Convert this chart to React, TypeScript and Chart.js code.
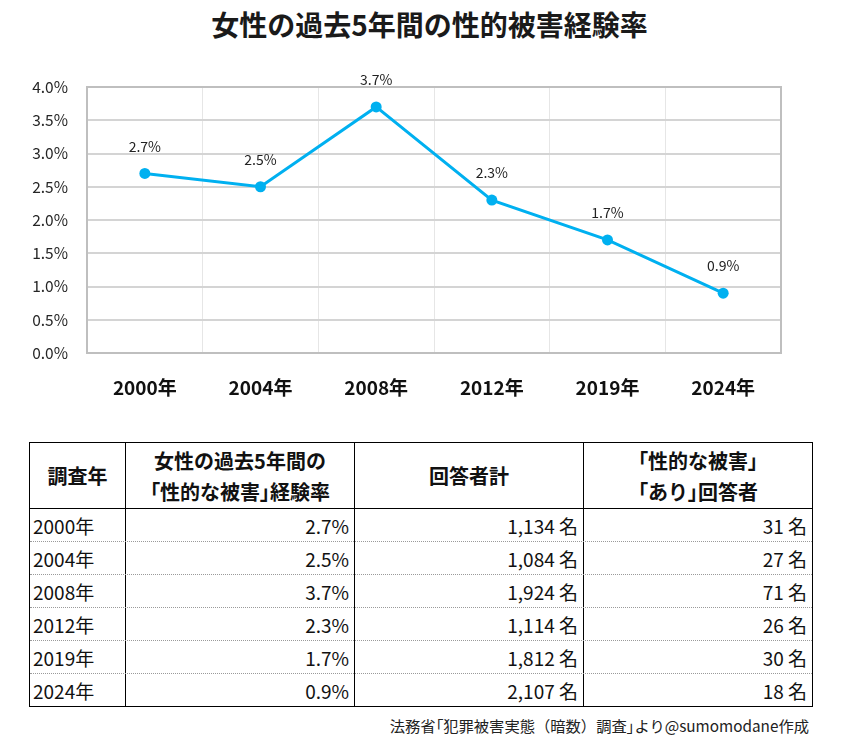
import React, { useEffect, useRef } from "react";
import { Chart, registerables } from "chart.js";

Chart.register(...registerables);

const FONT = "'Noto Sans CJK JP', 'Noto Sans', sans-serif";

const chartTitle = "女性の過去5年間の性的被害経験率";
const years = ["2000年", "2004年", "2008年", "2012年", "2019年", "2024年"];
const rates = [2.7, 2.5, 3.7, 2.3, 1.7, 0.9];
const totals = ["1,134", "1,084", "1,924", "1,114", "1,812", "2,107"];
const victims = ["31", "27", "71", "26", "30", "18"];
const headerCol1 = ["調査年"];
const headerCol2 = ["女性の過去5年間の", "「性的な被害」経験率"];
const headerCol3 = ["回答者計"];
const headerCol4 = ["「性的な被害」", "「あり」回答者"];
const sourceNote = "法務省「犯罪被害実態（暗数）調査」より@sumomodane作成";

// render text with 「 」 narrowed (proportional alternates)
function Txt({ s }: { s: string }) {
  const parts = s.split(/([「」])/);
  return (
    <>
      {parts.map((p, i) =>
        p === "「" || p === "」" ? (
          <span key={i} style={{ fontFeatureSettings: '"palt"' }}>
            {p}
          </span>
        ) : (
          <React.Fragment key={i}>{p}</React.Fragment>
        )
      )}
    </>
  );
}

const pointLabelPlugin = {
  id: "pointLabelPlugin",
  afterDatasetsDraw(chart: any) {
    const ctx = chart.ctx;
    const meta = chart.getDatasetMeta(0);
    ctx.save();
    ctx.font = `14px ${FONT}`;
    ctx.fillStyle = "#222";
    ctx.textAlign = "center";
    ctx.textBaseline = "middle";
    meta.data.forEach((pt: any, i: number) => {
      ctx.fillText(rates[i].toFixed(1) + "%", pt.x, pt.y - 27);
    });
    ctx.restore();
  },
};

const frameBoxPlugin = {
  id: "frameBoxPlugin",
  beforeDatasetsDraw(chart: any) {
    const { ctx, chartArea } = chart;
    ctx.save();
    ctx.strokeStyle = "#bfbfbf";
    ctx.lineWidth = 2;
    ctx.strokeRect(chartArea.left, chartArea.top, chartArea.right - chartArea.left, chartArea.bottom - chartArea.top);
    ctx.restore();
  },
};

function LineChart() {
  const ref = useRef<HTMLCanvasElement | null>(null);
  useEffect(() => {
    if (!ref.current) return;
    const chart = new Chart(ref.current, {
      type: "line",
      data: {
        labels: years,
        datasets: [
          {
            data: rates,
            borderColor: "#00b0f0",
            backgroundColor: "#00b0f0",
            borderWidth: 3,
            pointRadius: 5.5,
            pointBackgroundColor: "#00b0f0",
            pointBorderWidth: 0,
            tension: 0,
          },
        ],
      },
      options: {
        animation: false,
        responsive: false,
        events: [],
        layout: { padding: { left: 0, right: 62, top: 87, bottom: 7 } },
        plugins: {
          legend: { display: false },
          tooltip: { enabled: false },
          title: { display: false },
        },
        scales: {
          x: {
            offset: true,
            grid: { offset: true, color: "#e6e6e6", lineWidth: 1, drawTicks: false },
            border: { color: "#bfbfbf", width: 2 },
            ticks: {
              color: "#111",
              padding: 23,
              font: { family: FONT, size: 19, weight: "bold" },
            },
            afterFit(scale: any) {
              scale.height = 60;
            },
          },
          y: {
            min: 0,
            max: 4,
            grid: { color: "#d4d4d4", lineWidth: 2, drawTicks: false },
            border: { color: "#bfbfbf", width: 2 },
            ticks: {
              stepSize: 0.5,
              color: "#262626",
              padding: 19,
              font: { family: FONT, size: 15.5 },
              callback: (v: any) => Number(v).toFixed(1) + "%",
            },
            afterFit(scale: any) {
              scale.width = 87;
            },
          },
        },
      },
      plugins: [frameBoxPlugin, pointLabelPlugin],
    });
    return () => chart.destroy();
  }, []);
  return <canvas ref={ref} width={843} height={420} style={{ position: "absolute", left: 0, top: 0, width: 843, height: 420 }} />;
}

const colX = [29, 125, 354, 583, 812];
const rowY = [442, 508, 541, 574, 607, 640, 673, 706];

function DataTable() {
  const cells: React.ReactNode[] = [];
  const headers = [headerCol1, headerCol2, headerCol3, headerCol4];
  headers.forEach((lines, c) => {
    cells.push(
      <div
        key={`h${c}`}
        style={{
          position: "absolute",
          left: colX[c] + 1,
          top: rowY[0] + 1,
          width: colX[c + 1] - colX[c] - 1,
          height: rowY[1] - rowY[0] - 1,
          display: "flex",
          flexDirection: "column",
          alignItems: "center",
          justifyContent: "center",
          fontFamily: FONT,
          fontWeight: "bold",
          fontSize: 20,
          lineHeight: "31px",
          color: "#111",
          whiteSpace: "nowrap",
        }}
      >
        {lines.map((l, i) => (
          <div key={i}>
            <Txt s={l} />
          </div>
        ))}
      </div>
    );
  });
  years.forEach((y, r) => {
    const vals = [y, rates[r].toFixed(1) + "%", totals[r] + " 名", victims[r] + " 名"];
    vals.forEach((v, c) => {
      cells.push(
        <div
          key={`d${r}-${c}`}
          style={{
            position: "absolute",
            left: colX[c] + 1,
            top: rowY[r + 1] + 1,
            width: colX[c + 1] - colX[c] - 1,
            height: rowY[r + 2] - rowY[r + 1] - 1,
            display: "flex",
            alignItems: "center",
            justifyContent: c === 0 ? "flex-start" : "flex-end",
            boxSizing: "border-box",
            padding: c === 0 ? "0 0 0 3px" : "0 5px 0 0",
            fontFamily: FONT,
            fontSize: 19,
            color: "#111",
            whiteSpace: "nowrap",
          }}
        >
          {v}
        </div>
      );
    });
  });
  const lines: React.ReactNode[] = [];
  lines.push(
    <div
      key="outer"
      style={{
        position: "absolute",
        left: colX[0],
        top: rowY[0],
        width: colX[4] - colX[0] + 1,
        height: rowY[7] - rowY[0] + 1,
        border: "1px solid #000",
        boxSizing: "border-box",
      }}
    />
  );
  for (let i = 1; i < 4; i++) {
    lines.push(
      <div key={`v${i}`} style={{ position: "absolute", left: colX[i], top: rowY[0], width: 1, height: rowY[7] - rowY[0] + 1, background: "#000" }} />
    );
  }
  lines.push(
    <div key="hb" style={{ position: "absolute", left: colX[0], top: rowY[1], width: colX[4] - colX[0] + 1, height: 1, background: "#000" }} />
  );
  for (let k = 2; k < 7; k++) {
    lines.push(
      <div key={`d${k}`} style={{ position: "absolute", left: colX[0] + 1, top: rowY[k], width: colX[4] - colX[0] - 1, height: 0, borderTop: "1px dotted #9a9a9a" }} />
    );
  }
  return (
    <>
      {lines}
      {cells}
    </>
  );
}

export default function App() {
  return (
    <div style={{ position: "absolute", left: 0, top: 0, width: 843, height: 746, background: "#fff", overflow: "hidden" }}>
      <div
        style={{
          position: "absolute",
          left: 8,
          top: 7,
          width: 843,
          textAlign: "center",
          fontFamily: FONT,
          fontWeight: "bold",
          fontSize: 28,
          lineHeight: "34px",
          color: "#1a1a1a",
          whiteSpace: "nowrap",
        }}
      >
        {chartTitle}
      </div>
      <LineChart />
      <DataTable />
      <div
        style={{
          position: "absolute",
          right: 843 - 809,
          top: 715,
          fontFamily: FONT,
          fontSize: 15.3,
          lineHeight: "20px",
          color: "#222",
          whiteSpace: "nowrap",
        }}
      >
        <Txt s={sourceNote} />
      </div>
    </div>
  );
}
